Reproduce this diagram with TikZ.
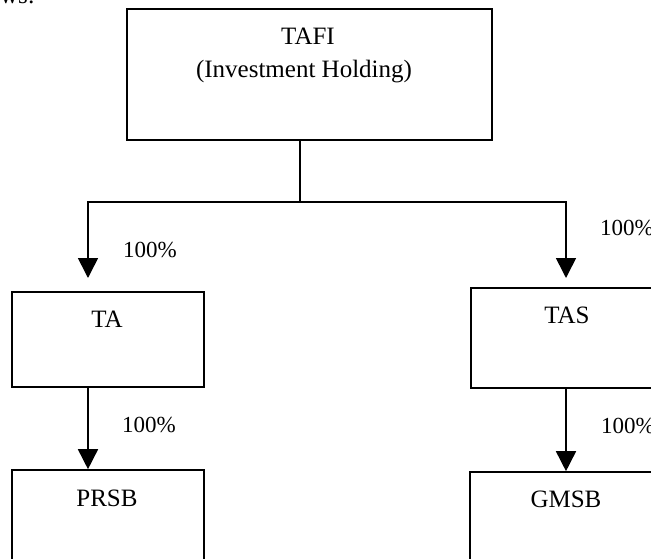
\documentclass[tikz,border=0pt]{standalone}
\usepackage{fontspec}
\setmainfont{Liberation Serif}
\usetikzlibrary{arrows.meta}
\begin{document}
\begin{tikzpicture}[x=1pt,y=-1pt,
  box/.style={draw,line width=1.6pt,inner sep=0pt,rectangle},
  lbl/.style={anchor=base,inner sep=0pt,font=\fontsize{25}{30}\selectfont},
  pct/.style={anchor=base west,inner sep=0pt,font=\fontsize{23}{28}\selectfont},
  conn/.style={line width=1.6pt},
  arr/.style={conn,-{Triangle[width=20pt,length=20pt]}}]
\useasboundingbox (0,0) rectangle (651,559);
\clip (0,0) rectangle (651,559);
\fill[white] (0,0) rectangle (651,559);
% cut-off text at the top
\node[lbl,anchor=base west] (ws) at (0,4) {ws:};
% boxes
\node[box,minimum width=365pt,minimum height=131pt] (tafi) at (309.5,74.5) {};
\node[box,minimum width=192pt,minimum height=95pt] (ta) at (108,339.5) {};
\node[box,minimum width=192pt,minimum height=100pt] (tas) at (567,338) {};
\node[box,minimum width=192pt,minimum height=100pt] (prsb) at (108,520) {};
\node[box,minimum width=192pt,minimum height=100pt] (gmsb) at (566,522) {};
% labels
\node[lbl] (tafit) at (308,45) {TAFI};
\node[lbl] (tafis) at (304,78) {(Investment Holding)};
\node[lbl] (tat) at (107,327) {TA};
\node[lbl] (tast) at (567,323) {TAS};
\node[lbl] (prsbt) at (107,506) {PRSB};
\node[lbl] (gmsbt) at (566,507) {GMSB};
% connectors
\coordinate (split) at (300,202);
\coordinate (taIn) at (88,278);
\coordinate (tasIn) at (566,278);
\draw[conn] (tafi.south -| split) -- (split);
\draw[arr] (split) -| (taIn);
\draw[arr] (split) -| (tasIn);
\draw[arr] ([xshift=-20pt]ta.south) -- ([xshift=-20pt]prsb.north);
\draw[arr] (tas.south -| gmsb.north) -- (gmsb.north);
% percentages
\node[pct] (p1) at (123,257) {100\%};
\node[pct] (p2) at (600,235) {100\%};
\node[pct] (p3) at (122,432) {100\%};
\node[pct] (p4) at (601,433) {100\%};
\end{tikzpicture}
\end{document}
